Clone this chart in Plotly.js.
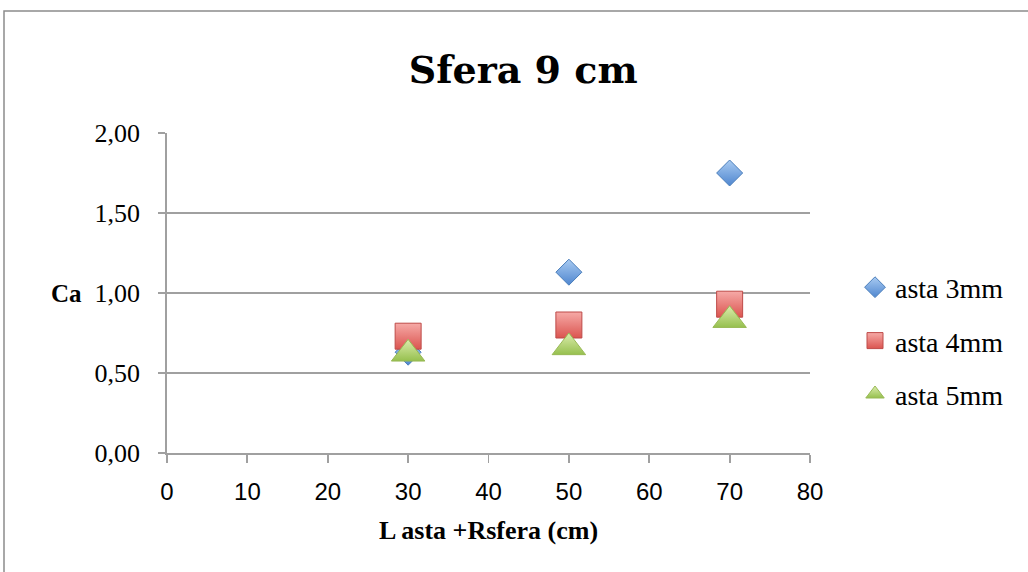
<!DOCTYPE html>
<html>
<head>
<meta charset="utf-8">
<script src="https://cdn.plot.ly/plotly-3.0.1.min.js"></script>
<style>html,body{margin:0;padding:0;background:#fff;}#chart{width:1028px;height:572px;}</style>
</head>
<body>
<div id="chart"></div>
<script>
// Data
const xValues = [30, 50, 70];
const asta3mm = [0.63, 1.13, 1.75];
const asta4mm = [0.73, 0.80, 0.93];
const asta5mm = [0.62, 0.66, 0.83];
const seriesNames = ["asta 3mm", "asta 4mm", "asta 5mm"];
const xTicks = [0, 10, 20, 30, 40, 50, 60, 70, 80];
const yTicks = [0, 0.5, 1, 1.5, 2];

const serif = "Liberation Serif, Times New Roman, serif";
const sans = "Liberation Sans, Arial, sans-serif";

const traces = [
  {x: xValues, y: asta3mm, name: seriesNames[0], legendgroup: "a", mode: "markers", type: "scatter",
   marker: {symbol: "diamond", size: 20, color: "#a9cbf2",
            gradient: {type: "vertical", color: "#4f86cf"},
            line: {color: "#4a7ebb", width: 1}}},
  {x: xValues, y: asta4mm, name: seriesNames[1], legendgroup: "b", mode: "markers", type: "scatter",
   marker: {symbol: "square", size: 26, color: "#f6aaa7",
            gradient: {type: "vertical", color: "#db5550"},
            line: {color: "#be4b48", width: 1}}},
  {x: xValues, y: asta5mm, name: seriesNames[2], legendgroup: "c", mode: "markers", type: "scatter",
   marker: {symbol: "triangle-up", size: 29, color: "#dcedae",
            gradient: {type: "vertical", color: "#96c04e"},
            line: {color: "#98b954", width: 1}}}
];

const layout = {
  width: 1028, height: 572,
  margin: {l: 167, r: 218, t: 133, b: 119},
  paper_bgcolor: "#ffffff", plot_bgcolor: "#ffffff",
  separators: ",.",
  showlegend: true,
  title: {text: "<b>Sfera 9 cm</b>", font: {family: "DejaVu Serif, serif", size: 38, color: "#000"},
          xref: "paper", x: 0.554, xanchor: "center", yref: "container", y: 0.878, yanchor: "middle"},
  xaxis: {range: [0, 80], tickvals: xTicks, ticktext: xTicks.map(String),
          showgrid: false, zeroline: false, showline: true, linecolor: "#a0a0a0", linewidth: 1.8,
          ticks: "outside", ticklen: 8, tickwidth: 1.8, tickcolor: "#a0a0a0",
          tickfont: {family: sans, size: 24, color: "#000"}, ticklabelstandoff: 8,
          title: {text: "<b>L asta +Rsfera (cm)</b>", font: {family: serif, size: 26, color: "#000"}, standoff: 17},
          fixedrange: true},
  yaxis: {range: [0, 2], tickvals: yTicks, tickformat: ".2f",
          showgrid: true, gridcolor: "#a0a0a0", gridwidth: 1.8, zeroline: false,
          showline: true, linecolor: "#a0a0a0", linewidth: 1.8,
          ticks: "outside", ticklen: 7, tickwidth: 1.8, tickcolor: "#a0a0a0",
          tickfont: {family: serif, size: 26, color: "#000"}, ticklabelstandoff: 13,
          fixedrange: true},
  legend: {x: 1.07, xanchor: "left", y: 0.35, yanchor: "middle",
           font: {family: serif, size: 28, color: "#000"},
           traceorder: "grouped", tracegroupgap: 14, bgcolor: "rgba(0,0,0,0)"},
  annotations: [
    {text: "<b>Ca</b>", xref: "paper", yref: "paper", x: (66 - 167) / 643, y: 0.5,
     xanchor: "center", yanchor: "middle", showarrow: false,
     font: {family: serif, size: 25, color: "#000"}}
  ],
  shapes: [
    {type: "rect", xref: "paper", yref: "paper",
     x0: (4 - 167) / 643, x1: (1040 - 167) / 643, y0: (453 - 590) / 320, y1: (453 - 11) / 320,
     line: {color: "#8c8c8c", width: 1.5}, fillcolor: "rgba(0,0,0,0)", layer: "below"}
  ]
};

Plotly.newPlot("chart", traces, layout, {displayModeBar: false, staticPlot: true});
</script>
</body>
</html>
